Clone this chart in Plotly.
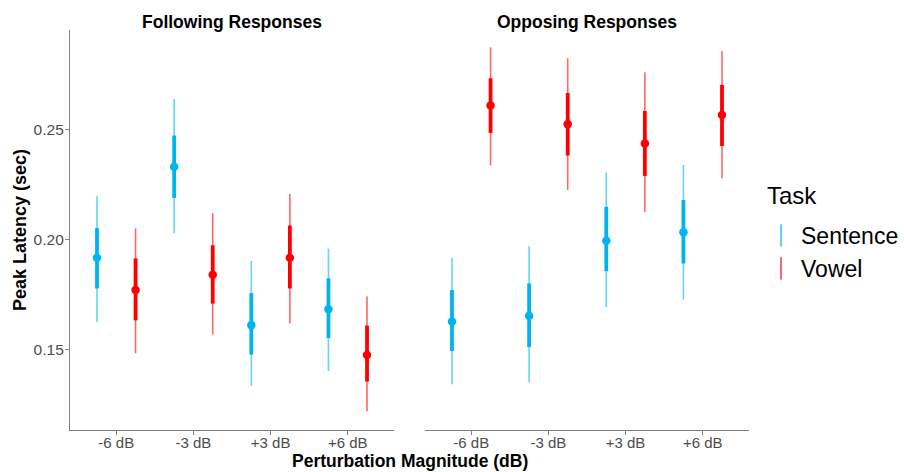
import plotly.graph_objects as go

categories = ["-6 dB", "-3 dB", "+3 dB", "+6 dB"]
panels = ["Following Responses", "Opposing Responses"]
tasks = ["Sentence", "Vowel"]
colors = {"Sentence": "#00B4F0", "Vowel": "#FF0000"}

# Following responses
fol_sent_mid = [0.1917, 0.2332, 0.1610, 0.1682]
fol_sent_in_lo = [0.1777, 0.2190, 0.1476, 0.1551]
fol_sent_in_hi = [0.2053, 0.2474, 0.1756, 0.1823]
fol_sent_out_lo = [0.1624, 0.2029, 0.1333, 0.1401]
fol_sent_out_hi = [0.2197, 0.2640, 0.1903, 0.1959]

fol_vow_mid = [0.1770, 0.1840, 0.1917, 0.1474]
fol_vow_in_lo = [0.1632, 0.1708, 0.1777, 0.1353]
fol_vow_in_hi = [0.1914, 0.1974, 0.2064, 0.1608]
fol_vow_out_lo = [0.1482, 0.1567, 0.1617, 0.1218]
fol_vow_out_hi = [0.2051, 0.2120, 0.2208, 0.1740]

# Opposing responses
opp_sent_mid = [0.1626, 0.1653, 0.1994, 0.2033]
opp_sent_in_lo = [0.1492, 0.1510, 0.1856, 0.1891]
opp_sent_in_hi = [0.1770, 0.1800, 0.2149, 0.2180]
opp_sent_out_lo = [0.1340, 0.1350, 0.1692, 0.1726]
opp_sent_out_hi = [0.1917, 0.1970, 0.2305, 0.2340]

opp_vow_mid = [0.2611, 0.2526, 0.2438, 0.2568]
opp_vow_in_lo = [0.2486, 0.2383, 0.2290, 0.2426]
opp_vow_in_hi = [0.2735, 0.2668, 0.2586, 0.2705]
opp_vow_out_lo = [0.2338, 0.2226, 0.2126, 0.2279]
opp_vow_out_hi = [0.2876, 0.2826, 0.2762, 0.2859]

data = {
    ("Following Responses", "Sentence"): (fol_sent_mid, fol_sent_in_lo, fol_sent_in_hi, fol_sent_out_lo, fol_sent_out_hi),
    ("Following Responses", "Vowel"): (fol_vow_mid, fol_vow_in_lo, fol_vow_in_hi, fol_vow_out_lo, fol_vow_out_hi),
    ("Opposing Responses", "Sentence"): (opp_sent_mid, opp_sent_in_lo, opp_sent_in_hi, opp_sent_out_lo, opp_sent_out_hi),
    ("Opposing Responses", "Vowel"): (opp_vow_mid, opp_vow_in_lo, opp_vow_in_hi, opp_vow_out_lo, opp_vow_out_hi),
}

dodge = {"Sentence": -0.25, "Vowel": 0.25}
FONT = "Arial, Liberation Sans, sans-serif"

fig = go.Figure()

def rgba(hexc, a):
    h = hexc.lstrip("#")
    r, g, b = int(h[0:2], 16), int(h[2:4], 16), int(h[4:6], 16)
    return f"rgba({r},{g},{b},{a})"

for pi, panel in enumerate(panels):
    xa = "x" if pi == 0 else "x2"
    for task in tasks:
        mid, ilo, ihi, olo, ohi = data[(panel, task)]
        xs = [i + 1 + dodge[task] for i in range(len(categories))]
        ox, oy, ix, iy = [], [], [], []
        for k, x in enumerate(xs):
            ox += [x, x, None]
            oy += [olo[k], ohi[k], None]
            ix += [x, x, None]
            iy += [ilo[k], ihi[k], None]
        c = colors[task]
        fig.add_trace(go.Scatter(x=ox, y=oy, mode="lines", xaxis=xa, yaxis="y",
                                 line=dict(color=rgba(c, 0.6), width=1.6),
                                 showlegend=False, hoverinfo="skip"))
        fig.add_trace(go.Scatter(x=ix, y=iy, mode="lines", xaxis=xa, yaxis="y",
                                 line=dict(color=c, width=3.8),
                                 showlegend=False, hoverinfo="skip"))
        fig.add_trace(go.Scatter(x=xs, y=mid, mode="markers", xaxis=xa, yaxis="y",
                                 marker=dict(color=c, size=8.5),
                                 showlegend=False, name=task))

# legend entries
for task in tasks:
    fig.add_trace(go.Scatter(x=[None], y=[None], mode="markers", name=task,
                             marker=dict(symbol="line-ns", size=24,
                                         line=dict(color=rgba(colors[task], 0.6), width=2),
                                         color=colors[task]),
                             showlegend=True))

axis_common = dict(
    range=[0.4, 4.6], tickmode="array", tickvals=[1, 2, 3, 4], ticktext=categories,
    showline=True, linecolor="#808080", linewidth=1.3, ticks="outside", ticklen=4,
    tickcolor="#808080", tickwidth=1.2, showgrid=False, zeroline=False,
    tickfont=dict(family=FONT, size=15, color="#4d4d4d"), anchor="y",
    ticklabelstandoff=-5,
)

fig.update_layout(
    width=904, height=472,
    margin=dict(l=70, r=155, t=30, b=42, autoexpand=False),
    paper_bgcolor="white", plot_bgcolor="white",
    font=dict(family=FONT),
    xaxis=dict(domain=[0, 0.4772], **axis_common),
    xaxis2=dict(domain=[0.5228, 1.0], **axis_common),
    yaxis=dict(range=[0.1132, 0.2955], tickvals=[0.15, 0.20, 0.25],
               ticktext=["0.15", "0.20", "0.25"], showline=True, linecolor="#808080",
               linewidth=1.3, ticks="outside", ticklen=4, tickcolor="#808080",
               tickwidth=1.2, showgrid=False, zeroline=False, anchor="x",
               ticklabelstandoff=-2,
               tickfont=dict(family=FONT, size=15.5, color="#4d4d4d")),
    legend=dict(x=1.0177, y=0.445, xanchor="left", yanchor="middle",
                font=dict(family=FONT, size=23, color="black"),
                bgcolor="rgba(0,0,0,0)", itemwidth=30, tracegroupgap=0),
    showlegend=True,
)

fig.add_annotation(text="<b>Following Responses</b>", x=0.2386, y=1.0, xref="paper", yref="paper",
                   xanchor="center", yanchor="middle", yshift=8, showarrow=False,
                   font=dict(family=FONT, size=17.5, color="black"))
fig.add_annotation(text="<b>Opposing Responses</b>", x=0.7614, y=1.0, xref="paper", yref="paper",
                   xanchor="center", yanchor="middle", yshift=8, showarrow=False,
                   font=dict(family=FONT, size=17.5, color="black"))
fig.add_annotation(text="<b>Perturbation Magnitude (dB)</b>", x=0.5, y=0, xref="paper", yref="paper",
                   xanchor="center", yanchor="middle", yshift=-31, showarrow=False,
                   font=dict(family=FONT, size=17.5, color="black"))
fig.add_annotation(text="<b>Peak Latency (sec)</b>", x=0, y=0.5, xref="paper", yref="paper",
                   xanchor="center", yanchor="middle", xshift=-50, textangle=-90, showarrow=False,
                   font=dict(family=FONT, size=18, color="black"))
fig.add_annotation(text="Task", x=1.0236, y=0.5875, xref="paper", yref="paper",
                   xanchor="left", yanchor="middle", showarrow=False,
                   font=dict(family=FONT, size=24, color="black"))

fig.write_html("out.html")
